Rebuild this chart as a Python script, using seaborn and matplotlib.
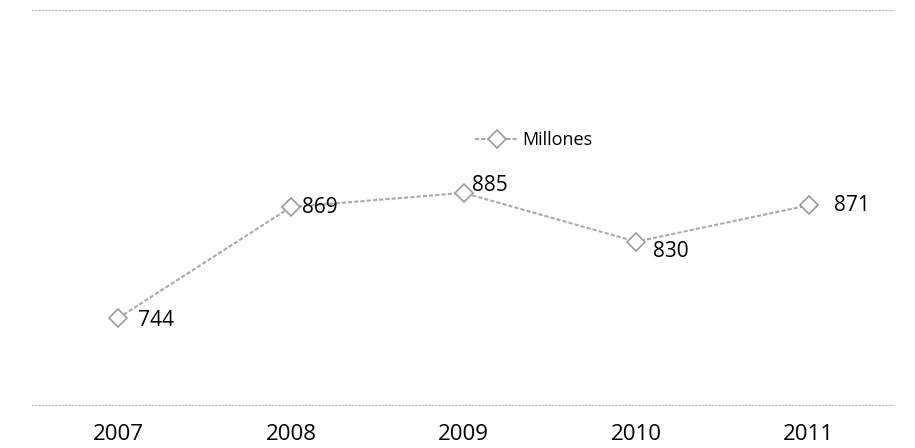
import matplotlib
matplotlib.use("Agg")
import matplotlib.pyplot as plt
import seaborn as sns
import pandas as pd

years = ["2007", "2008", "2009", "2010", "2011"]
millones = [744, 869, 885, 830, 871]
series_name = "Millones"

df = pd.DataFrame({"year": years, "value": millones, "series": series_name})

sns.set_style("white")
plt.rcParams['font.family'] = ['Open Sans', 'DejaVu Sans']

fig = plt.figure(figsize=(9.15, 4.48), dpi=100)
ax = fig.add_axes([32/915, 43/448, 863/915, 395/448])

sns.lineplot(data=df, x="year", y="value", hue="series", palette=["#a8a8a8"],
             marker="D", markersize=9, markerfacecolor="white",
             markeredgecolor="#9a9a9a", markeredgewidth=1.2, linewidth=1.5,
             linestyle=(0, (2, 1)), ax=ax, sort=False)

ax.set_xlim(-0.5, 4.5)
ax.set_ylim(646, 1091)
ax.set_xlabel("")
ax.set_ylabel("")
ax.set_yticks([])
ax.tick_params(axis="x", length=0, labelsize=16, pad=14, labelcolor="#000000")

for s in ["left", "right"]:
    ax.spines[s].set_visible(False)
for s in ["top", "bottom"]:
    ax.spines[s].set_visible(True)
    ax.spines[s].set_color("#b0b0b0")
    ax.spines[s].set_linestyle((0, (1, 2)))
    ax.spines[s].set_linewidth(0.8)

offsets = [(14, -2, "left"), (8, 0, "left"), (6, 5, "left"), (12, -7, "left"), (18, 0, "left")]
for i, (yr, v) in enumerate(zip(years, millones)):
    dx, dy, ha = offsets[i]
    ax.annotate(str(v), (i, v), xytext=(dx, dy), textcoords="offset points",
                ha=ha, va="center", fontsize=15, color="#000000")

leg = ax.legend(loc="upper left", bbox_to_anchor=(436/863, 1 - 114/395), frameon=False,
                fontsize=13, handlelength=2.4, handletextpad=0.2, borderaxespad=0)
for t in leg.get_texts():
    t.set_color("#000000")

fig.savefig("out.png", dpi=100)
